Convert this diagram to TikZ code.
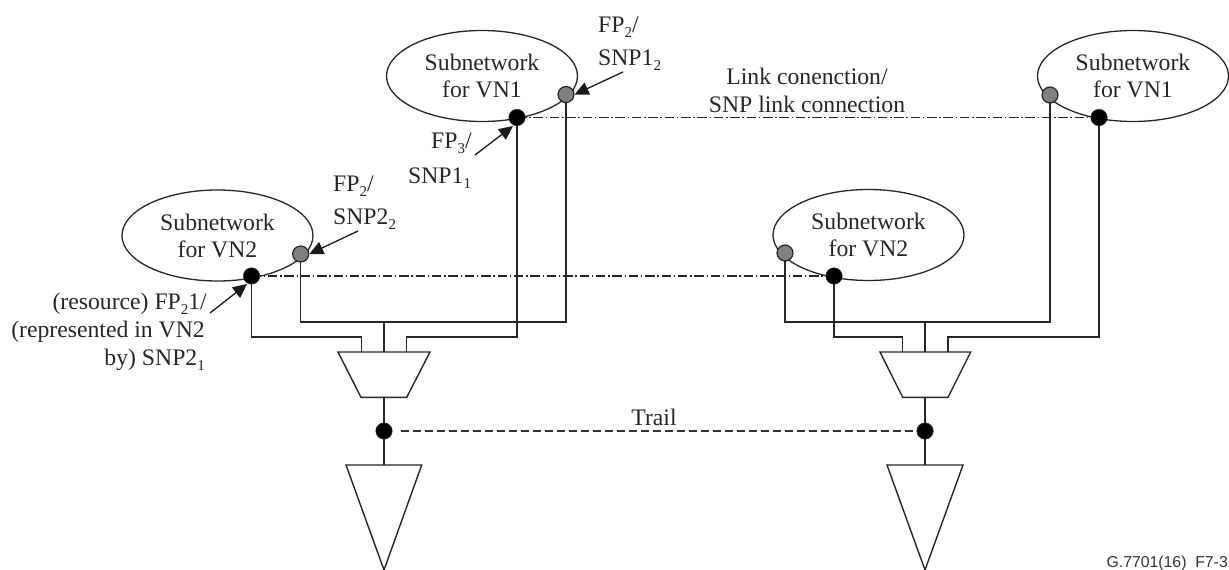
\documentclass[tikz,border=0pt]{standalone}
\usepackage{fontspec}
\setmainfont{Liberation Serif}
\newfontfamily\labelsans{Liberation Sans}
\usetikzlibrary{shapes.geometric,arrows.meta}
\newcommand{\lowsub}[1]{\raisebox{-5.5pt}{\fontsize{15pt}{15pt}\selectfont #1}}
\tikzset{
  x=1pt,y=-1pt,
  wire/.style={draw=black!85,line width=1.4pt},
  subnet/.style={ellipse,draw=black!85,line width=1.3pt,minimum width=191pt,minimum height=91pt,inner sep=0pt,align=center,font=\fontsize{23.7pt}{27pt}\selectfont,text=black!85},
  blackdot/.style={circle,fill=black,draw=black!80,line width=.5pt,minimum size=16.5pt,inner sep=0pt},
  graydot/.style={circle,fill=black!50,draw=black!85,line width=1.2pt,minimum size=16pt,inner sep=0pt},
  lbl/.style={inner sep=0pt,font=\fontsize{23.7pt}{27pt}\selectfont,text=black!85,anchor=base west},
  lblr/.style={lbl,anchor=base east},
  lblc/.style={lbl,anchor=base},
  pointer/.style={draw=black!90,line width=1.3pt,-{Triangle[length=14pt,width=13pt]},shorten <=0pt,shorten >=0pt},
  trailline/.style={draw=black!80,line width=1.3pt,dash pattern=on 8pt off 4pt},
  linkline/.style={draw=black!85,line width=1.1pt,dash pattern=on 9.5pt off 2.7pt on 1.5pt off 2.7pt},
}
\begin{document}
\begin{tikzpicture}
\useasboundingbox (0,0) rectangle (1229,570);

% ellipses
\node[subnet] (sA) at (482,76) {Subnetwork\\for VN1};
\node[subnet] (sB) at (217.5,235.5) {Subnetwork\\for VN2};
\node[subnet] (sC) at (1133,76) {Subnetwork\\for VN1};
\node[subnet] (sD) at (868.5,235) {Subnetwork\\for VN2};

% helper coordinates, left group
\coordinate (ml) at (361.7,352); \coordinate (mc) at (384,352); \coordinate (mr) at (406.7,352);
\coordinate (bLa) at (251.5,337); \coordinate (bLb) at (361.7,337);
\coordinate (bRa) at (517,337); \coordinate (bRb) at (406.7,337);
\coordinate (gLa) at (300.7,322); \coordinate (gLb) at (566,322); \coordinate (gLc) at (384,322);
% helper coordinates, right group
\coordinate (nl) at (902.7,352); \coordinate (nc) at (925,352); \coordinate (nr) at (948,352);
\coordinate (cLa) at (834,337); \coordinate (cLb) at (902.7,337);
\coordinate (cRa) at (1099,337); \coordinate (cRb) at (948,337);
\coordinate (hLa) at (785,322); \coordinate (hLb) at (1050,322); \coordinate (hLc) at (925,322);

% dots (named, drawn later)
\coordinate (dA1) at (517,117.5); \coordinate (dA2) at (566,94.5);
\coordinate (dB1) at (251.5,276); \coordinate (dB2) at (300.7,254);
\coordinate (dC1) at (1099,117.5); \coordinate (dC2) at (1050,95);
\coordinate (dD1) at (834,276); \coordinate (dD2) at (785,253);
\coordinate (t1) at (384,431); \coordinate (t2) at (925,431);

% wires
\draw[wire] (dB1) -- (bLa) -- (bLb) -- (ml);
\draw[wire] (dA1) -- (bRa) -- (bRb) -- (mr);
\draw[wire] (dB2) -- (gLa) -- (gLb) -- (dA2);
\draw[wire] (gLc) -- (mc);
\draw[wire] (dD1) -- (cLa) -- (cLb) -- (nl);
\draw[wire] (dC1) -- (cRa) -- (cRb) -- (nr);
\draw[wire] (dD2) -- (hLa) -- (hLb) -- (dC2);
\draw[wire] (hLc) -- (nc);

% link connections
\draw[linkline] (dA1) -- (dC1);
\draw[linkline] (dB1) -- (dD1);

% muxes
\draw[wire,line join=miter] (338,352) -- (430,352) -- (406.7,397.3) -- (361,397.3) -- cycle;
\draw[wire,line join=miter] (880,352) -- (970.7,352) -- (948,397.3) -- (902.7,397.3) -- cycle;
\draw[wire] (384,397.3) -- (t1);
\draw[wire] (925,397.3) -- (t2);
\draw[wire] (t1) -- (384,465);
\draw[wire] (t2) -- (925,465);

% triangles
\draw[wire,line join=miter] (346,465) -- (421.7,465) -- (384,570) -- cycle;
\draw[wire,line join=miter] (887,465) -- (963,465) -- (925,570) -- cycle;

% dots
\node[blackdot] (nA1) at (dA1) {};
\node[graydot] (nA2) at (dA2) {};
\node[blackdot] (nB1) at (dB1) {};
\node[graydot] (nB2) at (dB2) {};
\node[blackdot] (nC1) at (dC1) {};
\node[graydot] (nC2) at (dC2) {};
\node[blackdot] (nD1) at (dD1) {};
\node[graydot] (nD2) at (dD2) {};
\node[blackdot] (nT1) at (t1) {};
\node[blackdot] (nT2) at (t2) {};

% trail
\draw[trailline] (400.7,431) -- (nT2.west);
\node[lblc] (trail) at (654,425) {Trail};

% labels
\node[lbl] (a1) at (598,32) {FP\lowsub{2}/};
\node[lbl] (a2) at (598,65) {SNP1\lowsub{2}};
\node[lbl] (b1) at (431,148) {FP\lowsub{3}/};
\node[lbl] (b2) at (408,183) {SNP1\lowsub{1}};
\node[lbl] (c1) at (333,191) {FP\lowsub{2}/};
\node[lbl] (c2) at (333,224) {SNP2\lowsub{2}};
\node[lblr] (d1) at (207,309) {(resource) FP\lowsub{2}1/};
\node[lblr] (d2) at (205,337) {(represented in VN2};
\node[lblr] (d3) at (205,365) {by) SNP2\lowsub{1}};
\node[lblc] (e1) at (807,84) {Link conenction/};
\node[lblc] (e2) at (807,112) {SNP link connection};
\node[anchor=base east,inner sep=0pt,font=\labelsans\fontsize{15.8pt}{18pt}\selectfont,text=black!80] (f) at (1228,567) {G.7701(16)\ \ F7-3};

% pointers
\coordinate (pa) at (623,72); \coordinate (pb) at (475,155);
\coordinate (pc) at (358,231); \coordinate (pd) at (210,313);
\draw[pointer] (pa) -- (nA2.east);
\draw[pointer] (pb) -- (513,126);
\draw[pointer] (pc) -- (nB2.east);
\draw[pointer] (pd) -- (247,284);
\end{tikzpicture}
\end{document}
